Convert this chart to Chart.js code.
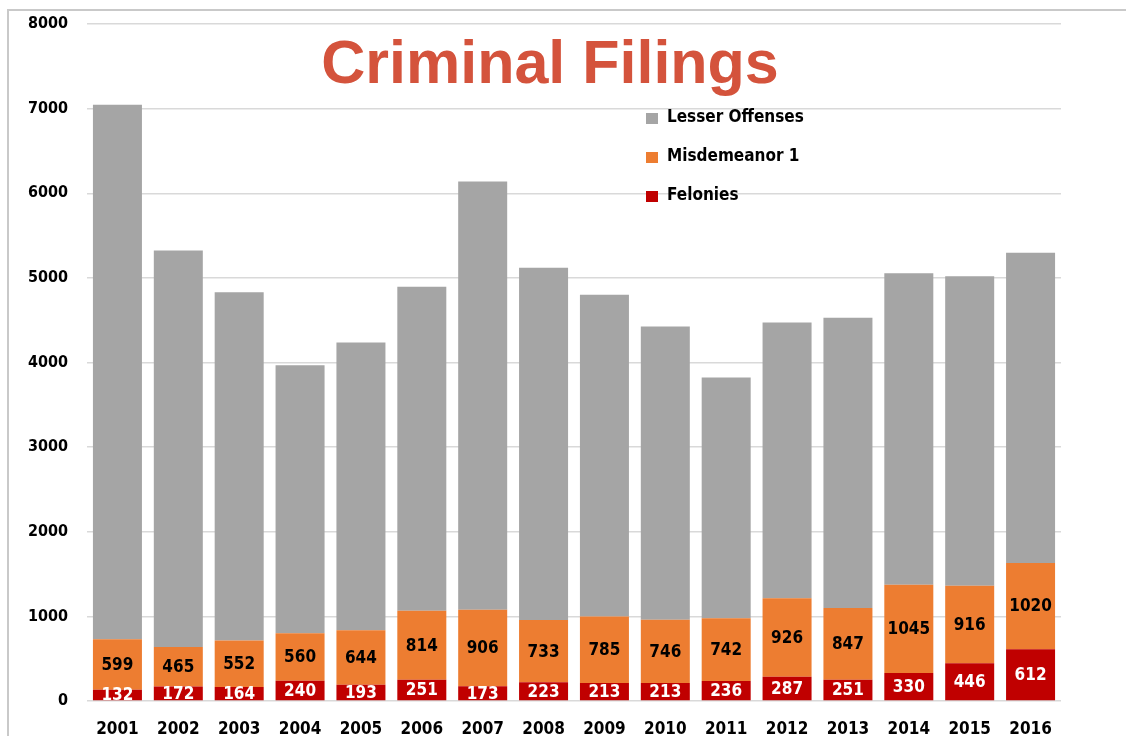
<!DOCTYPE html>
<html>
<head>
<meta charset="utf-8">
<script src="https://cdn.jsdelivr.net/npm/chart.js@4"></script>
<style>
    html, body { margin: 0; padding: 0; background: #fff; }
    #wrap { width: 1126px; height: 736px; position: relative; }
</style>
</head>
<body>
<div id="wrap"><canvas id="chart" width="1126" height="736"></canvas></div>
<script>
// Data
const years = ['2001', '2002', '2003', '2004', '2005', '2006', '2007', '2008',
               '2009', '2010', '2011', '2012', '2013', '2014', '2015', '2016'];
const felonies = [132, 172, 164, 240, 193, 251, 173, 223, 213, 213, 236, 287, 251, 330, 446, 612];
const misdemeanor1 = [599, 465, 552, 560, 644, 814, 906, 733, 785, 746, 742, 926, 847, 1045, 916, 1020];
const lesserOffenses = [6316, 4686, 4115, 3168, 3398, 3829, 5059, 4165, 3802, 3465, 2846, 3261, 3431, 3680, 3658, 3664];
const yMax = 8000;
const yStep = 1000;

const fontFamily = '"DejaVu Sans Condensed", "Open Sans", sans-serif';
const labelFont = 'bold 17px ' + fontFamily;

// Outer frame + title
const framePlugin = {
    id: 'frame',
    beforeDraw(chart) {
        const ctx = chart.ctx;
        ctx.save();
        ctx.strokeStyle = '#c9c9c9';
        ctx.lineWidth = 2;
        ctx.beginPath();
        ctx.moveTo(8, 740);
        ctx.lineTo(8, 10);
        ctx.lineTo(1130, 10);
        ctx.stroke();
        ctx.restore();
    },
    afterDraw(chart) {
        const ctx = chart.ctx;
        ctx.save();
        ctx.font = 'bold 61px "Liberation Sans", Arial, sans-serif';
        ctx.fillStyle = '#d4533c';
        ctx.textAlign = 'center';
        ctx.textBaseline = 'alphabetic';
        ctx.fillText('Criminal Filings', 550, 83);
        ctx.restore();
    }
};

// Legend drawn inside the plot, top to bottom: Lesser, Misdemeanor 1, Felonies
const legendPlugin = {
    id: 'innerLegend',
    afterDatasetsDraw(chart) {
        const ctx = chart.ctx;
        const order = [2, 1, 0];
        ctx.save();
        ctx.font = labelFont;
        ctx.textBaseline = 'middle';
        ctx.textAlign = 'left';
        order.forEach((dsIdx, i) => {
            const ds = chart.data.datasets[dsIdx];
            const cy = 118 + i * 39;
            ctx.fillStyle = ds.backgroundColor;
            ctx.fillRect(646, cy - 5, 12, 11);
            ctx.fillStyle = '#000';
            ctx.fillText(ds.label, 667, cy);
        });
        ctx.restore();
    }
};

// Value labels centred in the two lower segments
const valueLabels = {
    id: 'valueLabels',
    afterDatasetsDraw(chart) {
        const ctx = chart.ctx;
        const area = chart.chartArea;
        ctx.save();
        ctx.beginPath();
        ctx.rect(area.left, area.top, area.right - area.left, area.bottom - area.top);
        ctx.clip();
        ctx.font = labelFont;
        ctx.textAlign = 'center';
        ctx.textBaseline = 'middle';
        [0, 1].forEach(dsIdx => {
            const meta = chart.getDatasetMeta(dsIdx);
            const values = chart.data.datasets[dsIdx].data;
            ctx.fillStyle = dsIdx === 0 ? '#fff' : '#000';
            meta.data.forEach((bar, i) => {
                const cy = (bar.y + bar.base) / 2;
                ctx.fillText(String(values[i]), bar.x, cy + 1);
            });
        });
        ctx.restore();
    }
};

new Chart(document.getElementById('chart'), {
    type: 'bar',
    data: {
        labels: years,
        datasets: [
            { label: 'Felonies', data: felonies, backgroundColor: '#c00000' },
            { label: 'Misdemeanor 1', data: misdemeanor1, backgroundColor: '#ed7d31' },
            { label: 'Lesser Offenses', data: lesserOffenses, backgroundColor: '#a5a5a5' }
        ]
    },
    options: {
        responsive: false,
        animation: false,
        layout: { padding: { top: 24, right: 65, bottom: 0, left: 0 } },
        datasets: { bar: { categoryPercentage: 1, barPercentage: 0.805, borderWidth: 0 } },
        plugins: { legend: { display: false }, tooltip: { enabled: false } },
        scales: {
            x: {
                stacked: true,
                grid: { display: false },
                border: { display: false },
                ticks: {
                    color: '#000',
                    padding: 10,
                    maxRotation: 0,
                    font: { family: fontFamily, weight: 'bold', size: 17 }
                },
                afterFit: (s) => { s.height = 35; }
            },
            y: {
                stacked: true,
                min: 0,
                max: yMax,
                grid: { color: '#d9d9d9', lineWidth: 1.5, drawTicks: false },
                border: { display: false },
                ticks: {
                    stepSize: yStep,
                    color: '#000',
                    padding: 19,
                    font: { family: fontFamily, weight: 'bold', size: 16 },
                    callback: (v) => String(v)
                },
                afterFit: (s) => {
                    s.width = 87;
                    s.paddingTop = 0;
                    s.paddingBottom = 0;
                }
            }
        }
    },
    plugins: [framePlugin, valueLabels, legendPlugin]
});
</script>
</body>
</html>
